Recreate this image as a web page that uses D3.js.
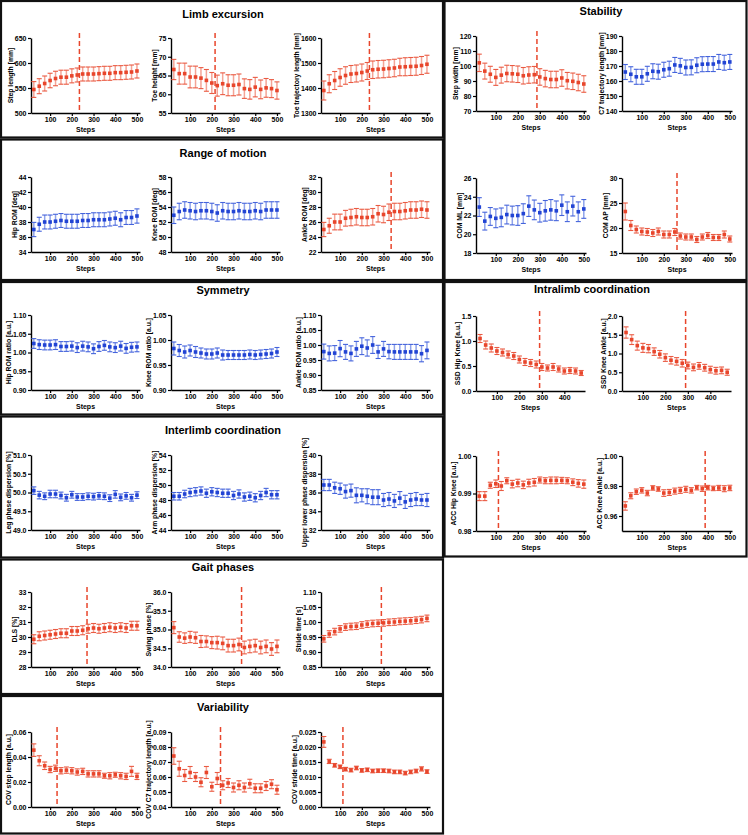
<!DOCTYPE html>
<html><head><meta charset="utf-8">
<script src="https://cdn.jsdelivr.net/npm/d3@7"></script>
<style>
body{margin:0;background:#fff;}
svg text{font-family:"Liberation Sans",Arial,Helvetica,sans-serif;font-weight:bold;fill:#000;}
</style></head><body>
<svg id="chart" width="748" height="835"></svg>
<script>
// ---------------- DATA ----------------
const steps = [25,50,75,100,125,150,175,200,225,250,275,300,325,350,375,400,425,450,475,500];
const stepsSSD = [25,50,75,100,125,150,175,200,225,250,275,300,325,350,375,400,425,450,475];
const xTicks = [100,200,300,400,500];
const xTicksSSD = [100,200,300,400];

// Limb excursion
const stepLength = [547,553.6,559,565,569,571.6,571.6,574.3,576,578,578,578,578.7,579.4,579.4,580.7,580.7,581.4,582,584];
const stepLengthSD = [15.8,15,15,14.5,14.5,14,14,14,14,14,14,14,14,14,14,14,14,14,14,14];
const toeHeight = [66.6,65.5,65.5,64.6,64.6,64.3,63.7,63.0,62.3,62.8,62.4,62.4,62.6,61.5,61.3,61.9,61.3,61.7,61.5,61.0];
const toeHeightSD = [2.7,2.8,2.8,2.9,2.9,2.8,2.9,2.8,2.8,2.9,2.8,2.8,2.8,2.6,2.6,2.6,2.5,2.5,2.4,2.3];
const toeTraj = [1390,1417,1430,1442,1450,1456,1458,1462,1468,1473,1475,1476,1478,1480,1484,1485,1486,1487,1490,1495];
const toeTrajSD = [38,36,36,35,35,34,34,34,34,35,35,35,35,35,35,36,36,36,36,36];
// Range of motion
const hipROM = [37.0,37.7,38.0,38.0,38.1,38.2,38.1,38.1,38.1,38.2,38.2,38.3,38.3,38.3,38.4,38.5,38.3,38.6,38.6,38.8];
const hipROMSD = [0.95,0.93,0.93,0.93,0.93,0.93,0.93,0.93,0.93,0.93,0.93,0.93,0.93,0.93,0.93,0.93,0.93,0.93,0.93,0.95];
const kneeROM = [52.9,53.4,53.6,53.5,53.4,53.5,53.5,53.4,53.2,53.5,53.4,53.4,53.5,53.4,53.4,53.5,53.4,53.6,53.6,53.6];
const kneeROMSD = [1.1,1.1,1.1,1.1,1.1,1.1,1.1,1.1,1.1,1.1,1.1,1.1,1.1,1.1,1.1,1.1,1.1,1.1,1.1,1.1];
const ankleROM = [25.0,25.5,26.0,26.0,26.5,26.6,26.7,26.6,26.6,26.7,27.1,27.0,27.3,27.4,27.4,27.5,27.6,27.6,27.7,27.6];
const ankleROMSD = [0.95,1.0,1.05,1.05,1.05,1.1,1.1,1.1,1.1,1.1,1.1,1.1,1.1,1.1,1.1,1.1,1.1,1.1,1.1,1.1];
// Symmetry
const hipRatio = [1.024,1.021,1.020,1.020,1.021,1.016,1.016,1.017,1.013,1.017,1.015,1.010,1.016,1.019,1.015,1.013,1.017,1.011,1.014,1.015];
const hipRatioSD = [0.013,0.013,0.013,0.013,0.013,0.013,0.013,0.013,0.013,0.013,0.013,0.013,0.013,0.013,0.013,0.013,0.013,0.013,0.013,0.013];
const kneeRatio = [0.983,0.979,0.976,0.979,0.976,0.974,0.972,0.972,0.974,0.970,0.970,0.970,0.970,0.970,0.971,0.970,0.971,0.972,0.973,0.976];
const kneeRatioSD = [0.013,0.012,0.012,0.011,0.011,0.010,0.010,0.010,0.010,0.010,0.009,0.009,0.009,0.009,0.009,0.009,0.009,0.009,0.009,0.009];
const ankleRatio = [0.978,0.972,0.973,0.988,0.977,0.972,0.987,0.996,0.990,1.000,0.977,0.987,0.978,0.977,0.977,0.977,0.977,0.977,0.971,0.982];
const ankleRatioSD = [0.025,0.025,0.025,0.027,0.025,0.025,0.025,0.028,0.027,0.028,0.022,0.025,0.024,0.025,0.025,0.025,0.025,0.025,0.027,0.028];
// Interlimb coordination
const legPD = [50.05,49.93,49.90,49.96,49.96,49.92,49.86,49.94,49.88,49.88,49.90,49.89,49.91,49.90,49.85,49.95,49.87,49.91,49.86,49.93];
const legPDSD = [0.1,0.1,0.09,0.1,0.1,0.09,0.09,0.09,0.09,0.09,0.09,0.09,0.09,0.09,0.09,0.1,0.09,0.09,0.09,0.09];
const armPD = [48.5,48.5,48.8,49.0,49.1,49.2,48.9,49.1,49.0,48.9,48.9,48.6,48.8,48.4,48.5,48.3,48.6,49.0,48.7,48.7];
const armPDSD = [0.5,0.5,0.5,0.55,0.55,0.55,0.55,0.55,0.55,0.55,0.55,0.55,0.55,0.55,0.55,0.55,0.55,0.55,0.55,0.55];
const ulPD = [36.8,36.8,36.5,36.4,36.1,36.2,35.7,35.7,35.6,35.5,35.5,35.2,35.3,35.1,35.4,35.0,35.2,35.3,35.2,35.2];
const ulPDSD = [0.6,0.6,0.6,0.6,0.7,0.7,0.8,0.7,0.8,0.8,0.8,0.7,0.7,0.7,0.7,0.7,0.7,0.7,0.6,0.7];
// Gait phases
const dls = [29.85,30.05,30.1,30.15,30.2,30.25,30.25,30.4,30.4,30.45,30.55,30.6,30.55,30.6,30.65,30.6,30.65,30.6,30.75,30.75];
const dlsSD = [0.3,0.3,0.3,0.3,0.3,0.3,0.3,0.3,0.3,0.3,0.3,0.3,0.3,0.3,0.3,0.3,0.3,0.3,0.3,0.3];
const swing = [35.05,34.8,34.77,34.8,34.78,34.68,34.68,34.65,34.65,34.63,34.57,34.57,34.6,34.52,34.55,34.57,34.52,34.55,34.48,34.55];
const swingSD = [0.16,0.14,0.14,0.15,0.15,0.16,0.15,0.16,0.17,0.17,0.17,0.17,0.17,0.17,0.17,0.17,0.17,0.17,0.17,0.17];
const strideTime = [0.944,0.960,0.968,0.977,0.983,0.985,0.986,0.990,0.993,0.995,0.996,0.997,0.999,1.000,1.002,1.003,1.004,1.006,1.008,1.012];
const strideTimeSD = [0.011,0.011,0.011,0.011,0.011,0.011,0.011,0.011,0.011,0.011,0.011,0.011,0.011,0.011,0.011,0.011,0.011,0.011,0.011,0.011];
// Variability
const covStepLength = [0.0455,0.037,0.033,0.030,0.031,0.029,0.0295,0.029,0.028,0.0285,0.0265,0.0265,0.0265,0.025,0.025,0.0258,0.025,0.0245,0.0285,0.0245];
const covStepLengthSD = [0.005,0.004,0.003,0.0025,0.0025,0.0025,0.0025,0.0025,0.0025,0.0025,0.0025,0.0025,0.0025,0.002,0.0025,0.002,0.0025,0.0025,0.004,0.0025];
const covC7 = [0.074,0.0655,0.061,0.063,0.060,0.0565,0.063,0.0535,0.059,0.0545,0.056,0.053,0.0545,0.053,0.0555,0.0525,0.0525,0.054,0.0552,0.0515];
const covC7SD = [0.0055,0.005,0.004,0.004,0.003,0.003,0.004,0.003,0.004,0.003,0.003,0.003,0.003,0.003,0.003,0.003,0.003,0.003,0.003,0.003];
const covStride = [0.0217,0.0152,0.0139,0.0134,0.0126,0.0123,0.0130,0.0122,0.0124,0.0120,0.0121,0.0121,0.0120,0.0117,0.0117,0.0113,0.0117,0.0120,0.0127,0.0118];
const covStrideSD = [0.0018,0.0007,0.0006,0.0006,0.0006,0.0006,0.0006,0.0006,0.0006,0.0006,0.0006,0.0006,0.0006,0.0006,0.0006,0.0006,0.0006,0.0006,0.0007,0.0006];
// Stability
const stepWidth = [102.1,96.6,94.5,92.4,93.9,95.0,94.8,94.5,93.5,94.0,94.2,92.7,91.6,91.0,91.0,92.0,90.2,89.8,89.0,88.0];
const stepWidthSD = [5.8,5.3,5.3,5.3,5.3,5.5,5.5,5.5,5.5,5.5,5.5,5.5,5.5,5.5,5.5,5.5,5.5,5.5,5.5,5.5];
const c7Traj = [166.0,164.5,162.8,162.8,164.8,166.5,166.2,167.5,168.2,170.7,170.1,169.0,169.1,170.5,171.2,171.3,171.3,172.7,172.2,172.7];
const c7TrajSD = [5,5,5,5,5,5,5,5,5,5,5,5,5,5,5,5,5,5,5,5];
const comML = [22.9,21.4,21.9,21.7,21.8,22.1,22.0,22.0,22.2,23.0,22.6,22.3,22.5,22.6,22.5,23.1,22.4,23.0,22.4,22.7];
const comMLSD = [1.0,0.95,0.95,1.0,1.0,1.0,1.0,1.05,1.05,1.1,1.05,1.0,1.1,1.1,1.05,1.1,1.05,1.05,1.05,1.0];
const comAP = [23.3,20.5,19.7,19.3,19.2,19.0,19.3,18.7,18.7,19.2,18.4,18.2,18.2,17.7,18.2,18.5,18.1,18.1,18.7,17.8];
const comAPSD = [1.7,1.0,0.7,0.7,0.7,0.7,0.7,0.7,0.7,0.7,0.6,0.6,0.6,0.6,0.6,0.6,0.6,0.6,0.7,0.6];
// Intralimb coordination
const ssdHK = [1.05,0.92,0.86,0.80,0.77,0.73,0.70,0.63,0.58,0.56,0.53,0.48,0.46,0.48,0.44,0.40,0.41,0.40,0.36];
const ssdHKSD = [0.08,0.08,0.08,0.07,0.07,0.07,0.07,0.07,0.07,0.07,0.07,0.07,0.06,0.07,0.06,0.06,0.06,0.06,0.05];
const ssdKA = [1.56,1.37,1.21,1.15,1.13,1.05,0.98,0.89,0.82,0.79,0.74,0.68,0.63,0.67,0.62,0.57,0.54,0.55,0.50];
const ssdKASD = [0.15,0.13,0.12,0.12,0.11,0.1,0.1,0.1,0.1,0.1,0.1,0.09,0.09,0.09,0.09,0.09,0.09,0.09,0.08];
const accHK = [0.9893,0.9893,0.9922,0.9926,0.9920,0.9934,0.9925,0.9928,0.9923,0.9928,0.9930,0.9936,0.9934,0.9935,0.9935,0.9935,0.9934,0.9930,0.9927,0.9925];
const accHKSD = [0.0012,0.0012,0.0008,0.001,0.0012,0.0008,0.001,0.001,0.001,0.001,0.001,0.0008,0.0008,0.0009,0.0009,0.0008,0.0008,0.0009,0.001,0.0011];
const accKA = [0.9667,0.9735,0.9762,0.9771,0.9753,0.9787,0.9780,0.9753,0.9757,0.9766,0.9771,0.9778,0.9771,0.9789,0.9782,0.9789,0.9784,0.9787,0.9782,0.9787];
const accKASD = [0.0028,0.002,0.0018,0.0018,0.0018,0.0015,0.0015,0.0022,0.002,0.002,0.002,0.002,0.0018,0.0015,0.0018,0.0015,0.0015,0.0017,0.002,0.0018];

// Section titles
const sectionTitles = ["Limb excursion","Range of motion","Symmetry","Interlimb coordination","Gait phases","Variability","Stability","Intralimb coordination"];

// ---------------- LAYOUT ----------------
const svg = d3.select("#chart");
const RED = {pt:"#e8462c", cap:"#ea5a42", stem:"#f4a496"};
const BLUE = {pt:"#2244d4", cap:"#4463dc", stem:"#8ea2ea"};
const H = 75;
const LX = [31,171,321], RX = [476,622];
const LDOM = [12,514], LW = 109;
const RDOM = [10,510], RW = 110;
const SSDDOM = [7,492];

// boxes
const boxes = [
  [1,1,442,136.5],[1,139.5,442,140.5],[1,282,442,132.5],[1,416.5,442,141],[1,559.5,442,134.5],[1,696,442,137.5],
  [444.5,1,302,279],[444.5,282,302,274.5]
];
boxes.forEach(b=>svg.append("rect").attr("x",b[0]).attr("y",b[1]).attr("width",b[2]).attr("height",b[3])
  .attr("fill","none").attr("stroke","#111").attr("stroke-width",2.2));

const titlePos = [[223,17.5],[223,156.5],[223,294],[223,433.5],[223,571],[223,711],[601,15],[592,293]];
sectionTitles.forEach((t,i)=>svg.append("text").attr("x",titlePos[i][0]).attr("y",titlePos[i][1])
  .attr("text-anchor","middle").style("font-size","11px").text(t));

function panel(p){
  const W = p.w;
  const x = d3.scaleLinear().domain(p.xDomain).range([p.x0, p.x0+W]);
  const y = d3.scaleLinear().domain(p.yDomain).range([p.top+H, p.top]);
  const g = svg.append("g");
  const col = p.color;
  if(p.cut!=null){
    g.append("line").attr("x1",x(p.cut)).attr("x2",x(p.cut)).attr("y1",p.top-5).attr("y2",p.top+H)
      .attr("stroke",RED.pt).attr("stroke-width",1.5).attr("stroke-dasharray","5,3");
  }
  const ya = g.append("g").attr("transform",`translate(${p.x0},0)`)
    .call(d3.axisLeft(y).tickValues(p.yTicks).tickFormat(d3.format(p.fmt)).tickSize(3).tickSizeOuter(0).tickPadding(1.5));
  const xa = g.append("g").attr("transform",`translate(0,${p.top+H})`)
    .call(d3.axisBottom(x).tickValues(p.xTicks).tickFormat(d3.format("d")).tickSize(3).tickSizeOuter(0).tickPadding(1));
  [ya,xa].forEach(a=>{
    a.select(".domain").attr("stroke","#000").attr("stroke-width",1.4);
    a.selectAll(".tick line").attr("stroke","#000").attr("stroke-width",1.2);
    a.selectAll(".tick text").style("font-size","7px").attr("fill","#000");
  });
  const pts = p.xs.map((s,i)=>({s, v:p.values[i], e:p.errors[i]}));
  const eb = g.append("g");
  eb.selectAll("line.stem").data(pts).join("line").attr("class","stem")
    .attr("x1",d=>x(d.s)).attr("x2",d=>x(d.s)).attr("y1",d=>y(d.v-d.e)).attr("y2",d=>y(d.v+d.e))
    .attr("stroke",col.stem).attr("stroke-width",1.5);
  eb.selectAll("line.capT").data(pts).join("line").attr("class","capT")
    .attr("x1",d=>x(d.s)-2.5).attr("x2",d=>x(d.s)+2.5).attr("y1",d=>y(d.v+d.e)).attr("y2",d=>y(d.v+d.e))
    .attr("stroke",col.cap).attr("stroke-width",1.1);
  eb.selectAll("line.capB").data(pts).join("line").attr("class","capB")
    .attr("x1",d=>x(d.s)-2.5).attr("x2",d=>x(d.s)+2.5).attr("y1",d=>y(d.v-d.e)).attr("y2",d=>y(d.v-d.e))
    .attr("stroke",col.cap).attr("stroke-width",1.1);
  g.append("g").selectAll("rect").data(pts).join("rect")
    .attr("x",d=>x(d.s)-1.8).attr("y",d=>y(d.v)-1.8).attr("width",3.6).attr("height",3.6).attr("fill",col.pt);
  const bb = ya.node().getBBox();
  g.append("text").attr("transform",`translate(${p.x0+bb.x-2},${p.top+H/2}) rotate(-90)`)
    .attr("text-anchor","middle").style("font-size","6.8px").text(p.label);
  g.append("text").attr("x",p.x0+W/2).attr("y",p.top+H+19).attr("text-anchor","middle")
    .style("font-size","7px").text("Steps");
}

const L = (i,top,o)=>Object.assign({x0:LX[i],top,w:LW,xDomain:LDOM,xs:steps,xTicks},o);
const R = (i,top,o)=>Object.assign({x0:RX[i],top,w:RW,xDomain:RDOM,xs:steps,xTicks},o);

const panels = [
  L(0,38,{label:"Step length [mm]",values:stepLength,errors:stepLengthSD,yDomain:[500,650],yTicks:[500,550,600,650],fmt:"d",color:RED,cut:235}),
  L(1,38,{label:"Toe height [mm]",values:toeHeight,errors:toeHeightSD,yDomain:[55,75],yTicks:[55,60,65,70,75],fmt:"d",color:RED,cut:215}),
  L(2,38,{label:"Toe trajectory length [mm]",values:toeTraj,errors:toeTrajSD,yDomain:[1300,1600],yTicks:[1300,1400,1500,1600],fmt:"d",color:RED,cut:235}),
  L(0,177,{label:"Hip ROM [deg]",values:hipROM,errors:hipROMSD,yDomain:[34,44],yTicks:[34,36,38,40,42,44],fmt:"d",color:BLUE}),
  L(1,177,{label:"Knee ROM [deg]",values:kneeROM,errors:kneeROMSD,yDomain:[48,58],yTicks:[48,50,52,54,56,58],fmt:"d",color:BLUE}),
  L(2,177,{label:"Ankle ROM [deg]",values:ankleROM,errors:ankleROMSD,yDomain:[22,32],yTicks:[22,24,26,28,30,32],fmt:"d",color:RED,cut:335}),
  L(0,315,{label:"Hip ROM ratio [a.u.]",values:hipRatio,errors:hipRatioSD,yDomain:[0.9,1.1],yTicks:[0.9,0.95,1.0,1.05,1.1],fmt:".2f",color:BLUE}),
  L(1,315,{label:"Knee ROM ratio [a.u.]",values:kneeRatio,errors:kneeRatioSD,yDomain:[0.9,1.05],yTicks:[0.9,0.95,1.0,1.05],fmt:".2f",color:BLUE}),
  L(2,315,{label:"Ankle ROM ratio [a.u.]",values:ankleRatio,errors:ankleRatioSD,yDomain:[0.85,1.1],yTicks:[0.85,0.9,0.95,1.0,1.05,1.1],fmt:".2f",color:BLUE}),
  L(0,455,{label:"Leg phase dispersion [%]",values:legPD,errors:legPDSD,yDomain:[49,51],yTicks:[49,49.5,50,50.5,51],fmt:".1f",color:BLUE}),
  L(1,455,{label:"Arm phase dispersion [%]",values:armPD,errors:armPDSD,yDomain:[44,54],yTicks:[44,46,48,50,52,54],fmt:"d",color:BLUE}),
  L(2,455,{label:"Upper lower phase dispersion [%]",values:ulPD,errors:ulPDSD,yDomain:[32,40],yTicks:[32,34,36,38,40],fmt:"d",color:BLUE}),
  L(0,592,{label:"DLS [%]",values:dls,errors:dlsSD,yDomain:[28,33],yTicks:[28,29,30,31,32,33],fmt:"d",color:RED,cut:270}),
  L(1,592,{label:"Swing phase [%]",values:swing,errors:swingSD,yDomain:[34,36],yTicks:[34,34.5,35,35.5,36],fmt:".1f",color:RED,cut:337}),
  L(2,592,{label:"Stride time [s]",values:strideTime,errors:strideTimeSD,yDomain:[0.85,1.1],yTicks:[0.85,0.9,0.95,1.0,1.05,1.1],fmt:".2f",color:RED,cut:290}),
  L(0,732,{label:"COV step length [a.u.]",values:covStepLength,errors:covStepLengthSD,yDomain:[0,0.06],yTicks:[0,0.02,0.04,0.06],fmt:".2f",color:RED,cut:132}),
  L(1,732,{label:"COV C7 trajectory length [a.u.]",values:covC7,errors:covC7SD,yDomain:[0.04,0.09],yTicks:[0.04,0.05,0.06,0.07,0.08,0.09],fmt:".2f",color:RED,cut:240}),
  L(2,732,{label:"COV stride time [a.u.]",values:covStride,errors:covStrideSD,yDomain:[0,0.025],yTicks:[0,0.005,0.01,0.015,0.02,0.025],fmt:".3f",color:RED,cut:113}),
  R(0,36,{label:"Step width [mm]",values:stepWidth,errors:stepWidthSD,yDomain:[70,120],yTicks:[70,80,90,100,110,120],fmt:"d",color:RED,cut:287}),
  R(1,36,{label:"C7 trajectory length [mm]",values:c7Traj,errors:c7TrajSD,yDomain:[140,190],yTicks:[140,150,160,170,180,190],fmt:"d",color:BLUE}),
  R(0,178,{label:"COM ML [mm]",values:comML,errors:comMLSD,yDomain:[18,26],yTicks:[18,20,22,24,26],fmt:"d",color:BLUE}),
  R(1,178,{label:"COM AP [mm]",values:comAP,errors:comAPSD,yDomain:[15,30],yTicks:[15,20,25,30],fmt:"d",color:RED,cut:260}),
  R(0,316,{label:"SSD Hip Knee [a.u.]",values:ssdHK,errors:ssdHKSD,yDomain:[0,1.5],yTicks:[0,0.5,1.0,1.5],fmt:".1f",color:RED,cut:290,xDomain:SSDDOM,xs:stepsSSD,xTicks:xTicksSSD,w:109}),
  R(1,316,{label:"SSD Knee Ankle [a.u.]",values:ssdKA,errors:ssdKASD,yDomain:[0,2.0],yTicks:[0,0.5,1.0,1.5,2.0],fmt:".1f",color:RED,cut:290,xDomain:SSDDOM,xs:stepsSSD,xTicks:xTicksSSD,w:109}),
  R(0,456,{label:"ACC Hip Knee [a.u.]",values:accHK,errors:accHKSD,yDomain:[0.98,1.0],yTicks:[0.98,0.99,1.0],fmt:".2f",color:RED,cut:112}),
  R(1,456,{label:"ACC Knee Ankle [a.u.]",values:accKA,errors:accKASD,yDomain:[0.95,1.0],yTicks:[0.96,0.98,1.0],fmt:".2f",color:RED,cut:388})
];
panels.forEach(panel);
</script>
</body></html>
